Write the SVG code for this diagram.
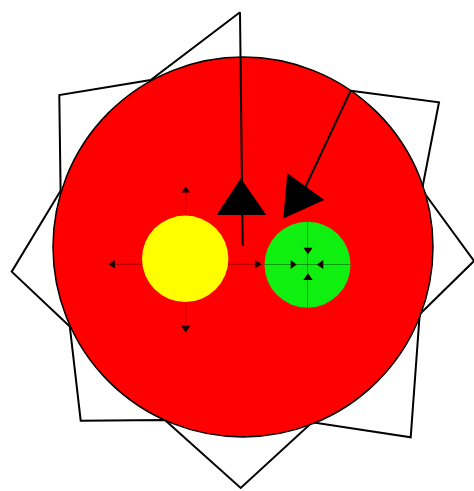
<svg xmlns="http://www.w3.org/2000/svg" width="474" height="491" viewBox="0 0 474 491">
<style>
.outline{fill:none;stroke:#000;stroke-width:2;stroke-linejoin:miter}
.conn{fill:none;stroke:#000;stroke-width:2}
.head{fill:#000;stroke:none}
.thin{fill:none;stroke:#000;stroke-opacity:0.35;stroke-width:1}
.tip{fill:#1a0000;stroke:none}
</style>
<rect width="474" height="491" fill="#fff"/>
<g id="star">
<polyline class="outline" points="240,12.3 150.7,80 59.3,95 60.6,190.7 11.7,271.7 69.8,326.4 80.7,420.7 164.9,420 240.7,488 312.2,422.2 410.7,437.3 419.7,314.3 474,261 422,189.8 439,102.3 350.7,90.7"/>
</g>
<g id="outer-circle">
<circle cx="243" cy="247" r="190" fill="#ff0000" stroke="#000" stroke-width="1.5"/>
</g>
<g id="yellow-node">
<line class="thin" x1="115" y1="264.3" x2="255" y2="264.3"/>
<line class="thin" x1="185.7" y1="192.5" x2="185.7" y2="325.7"/>
<polygon class="tip" points="185.8,186.3 181.6,192.5 190,192.5"/>
<polygon class="tip" points="185.7,332.5 181,325.7 190.4,325.7"/>
<polygon class="tip" points="108.3,264.3 115,260 115,268.6"/>
<polygon class="tip" points="261.8,264.3 255,260 255,268.6"/>
<circle cx="185.2" cy="258.8" r="43.2" fill="#ffff00"/>
</g>
<g id="green-node">
<circle cx="307.5" cy="264.7" r="43" fill="#10f010"/>
<line class="thin" x1="264.5" y1="264.5" x2="350.5" y2="264.5"/>
<line class="thin" x1="307.5" y1="221.7" x2="307.5" y2="307.7"/>
<polygon class="tip" points="308,254.3 303.3,247.7 312.7,247.7"/>
<polygon class="tip" points="308,273.3 303.3,280 312.7,280"/>
<polygon class="tip" points="296.7,264.5 290.7,260 290.7,269"/>
<polygon class="tip" points="316.7,264.5 323.3,260 323.3,269"/>
</g>
<g id="connectors">
<line class="conn" x1="240" y1="12.3" x2="242.7" y2="246"/>
<polygon class="head" points="240.8,178.3 266.3,215 216.7,215"/>
<line class="conn" x1="350.7" y1="90.7" x2="305.5" y2="187"/>
<polygon class="head" points="287.3,173.3 324.3,200 283.3,218.5"/>
</g>
</svg>
